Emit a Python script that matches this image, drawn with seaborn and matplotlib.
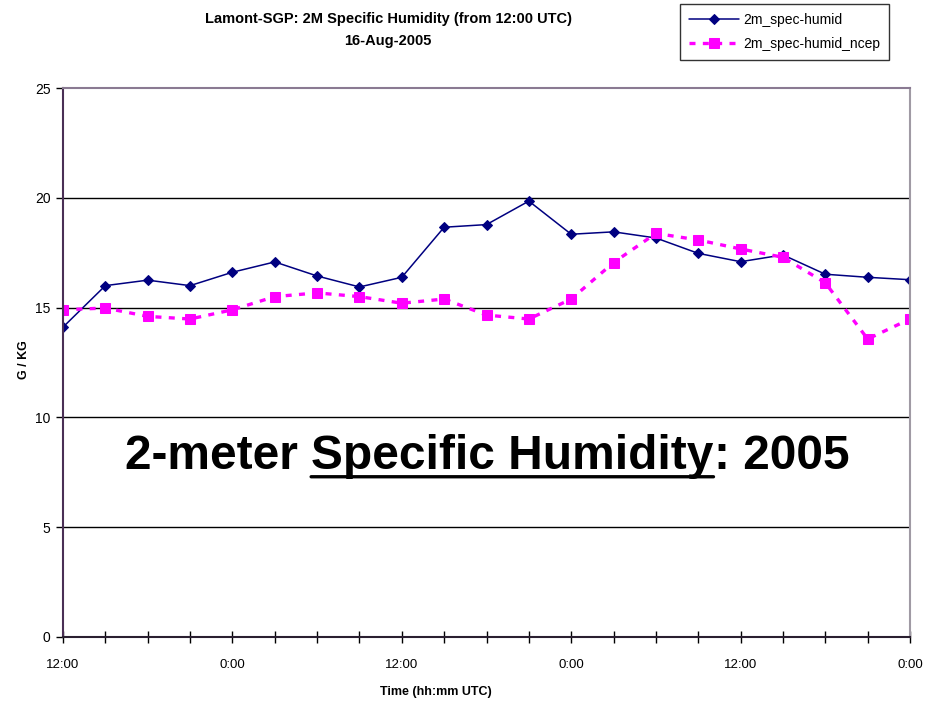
import matplotlib
matplotlib.use("Agg")
import matplotlib.pyplot as plt
import seaborn as sns
import pandas as pd

# Observations every 3 hours starting at 12:00 UTC
hours = list(range(0, 61, 3))
spec_humid = [14.11, 16.00, 16.25, 16.00, 16.61, 17.08, 16.44, 15.94, 16.38, 18.66,
              18.78, 19.85, 18.34, 18.45, 18.17, 17.47, 17.09, 17.40, 16.52, 16.38, 16.27]
spec_humid_ncep = [14.90, 14.98, 14.60, 14.48, 14.90, 15.50, 15.67, 15.50, 15.20, 15.39,
                   14.66, 14.48, 15.39, 17.05, 18.38, 18.08, 17.67, 17.29, 16.13, 13.57, 14.48]
tick_labels = ["12:00", "0:00", "12:00", "0:00", "12:00", "0:00"]

df = pd.DataFrame({"hours": hours,
                   "2m_spec-humid": spec_humid,
                   "2m_spec-humid_ncep": spec_humid_ncep})

sns.set_theme(style="white")
plt.rcParams["font.family"] = ["Liberation Sans", "DejaVu Sans"]
plt.rcParams["text.color"] = "black"
plt.rcParams["axes.labelcolor"] = "black"
plt.rcParams["xtick.color"] = "black"
plt.rcParams["ytick.color"] = "black"

fig = plt.figure(figsize=(9.46, 7.03), dpi=100)
ax = fig.add_axes([63 / 946, 1 - 637 / 703, (910 - 63) / 946, (637 - 88) / 703])

sns.lineplot(data=df, x="hours", y="2m_spec-humid", ax=ax, color="#000080",
             linewidth=1.1, marker="D", markersize=5.5, markeredgecolor="#000080",
             label="2m_spec-humid")
sns.lineplot(data=df, x="hours", y="2m_spec-humid_ncep", ax=ax, color="#FF00FF",
             linewidth=2.4, linestyle=(0, (1.8, 2.2)), marker="s", markersize=6.5,
             markeredgecolor="#FF00FF", label="2m_spec-humid_ncep")

ax.set_xlim(0, 60)
ax.set_ylim(0, 25)
ax.set_yticks([0, 5, 10, 15, 20, 25])
ax.set_xticks(range(0, 61, 3))
ax.set_xticklabels([tick_labels[i // 4] if i % 4 == 0 else "" for i in range(21)])
for y in [5, 10, 15, 20]:
    ax.axhline(y, color="black", linewidth=1.0, zorder=0)

ax.tick_params(axis="x", direction="inout", length=8, width=1, pad=12,
               labelsize=9.5, bottom=True)
ax.tick_params(axis="y", direction="out", length=5, width=1, pad=4,
               labelsize=10, left=True)

for side, col in [("left", "#4a2f55"), ("top", "#8a7a92"), ("right", "#a09aa4"), ("bottom", "#2a1f30")]:
    ax.spines[side].set_visible(True)
    ax.spines[side].set_color(col)
    ax.spines[side].set_linewidth(1.5)

ax.set_xlabel("Time (hh:mm UTC)", fontsize=9, fontweight="bold")
ax.xaxis.set_label_coords((436 - 63) / 847, -(686 - 637) / 549, transform=ax.transAxes)
ax.set_ylabel("G / KG", fontsize=9, fontweight="bold")
ax.yaxis.set_label_coords(-(63 - 30) / 847, (637 - 360) / 549)

fig.text(388 / 946, 1 - 19 / 703, "Lamont-SGP: 2M Specific Humidity (from 12:00 UTC)",
         ha="center", va="center", fontsize=10.5, fontweight="bold")
fig.text(388 / 946, 1 - 41 / 703, "16-Aug-2005",
         ha="center", va="center", fontsize=10.5, fontweight="bold")

leg = ax.legend(loc="upper left", bbox_to_anchor=(680 / 946, 1 - 4 / 703),
                bbox_transform=fig.transFigure, frameon=True, fancybox=False,
                fontsize=10, handlelength=3.6, handletextpad=0.3,
                borderpad=0.65, labelspacing=0.7, borderaxespad=0)
leg.get_frame().set_edgecolor("black")
leg.get_frame().set_linewidth(1.0)

# Headline caption with the key phrase underlined
big = dict(fontsize=34.5, fontweight="bold", color="black")
t1 = ax.text(125 / 946, 1 - 469 / 703, "2-meter ", transform=fig.transFigure,
             ha="left", va="baseline", **big)
t2 = ax.annotate("Specific Humidity", xy=(1, 0), xycoords=t1, ha="left", va="bottom", **big)
t3 = ax.annotate(": 2005", xy=(1, 0), xycoords=t2, ha="left", va="bottom", **big)
ax.annotate("", xy=(0, 0.05), xycoords=t2, xytext=(1, 0.05), textcoords=t2,
            arrowprops=dict(arrowstyle="-", linewidth=2.4, color="black",
                            shrinkA=0, shrinkB=0))

fig.savefig("out.png", dpi=100)
